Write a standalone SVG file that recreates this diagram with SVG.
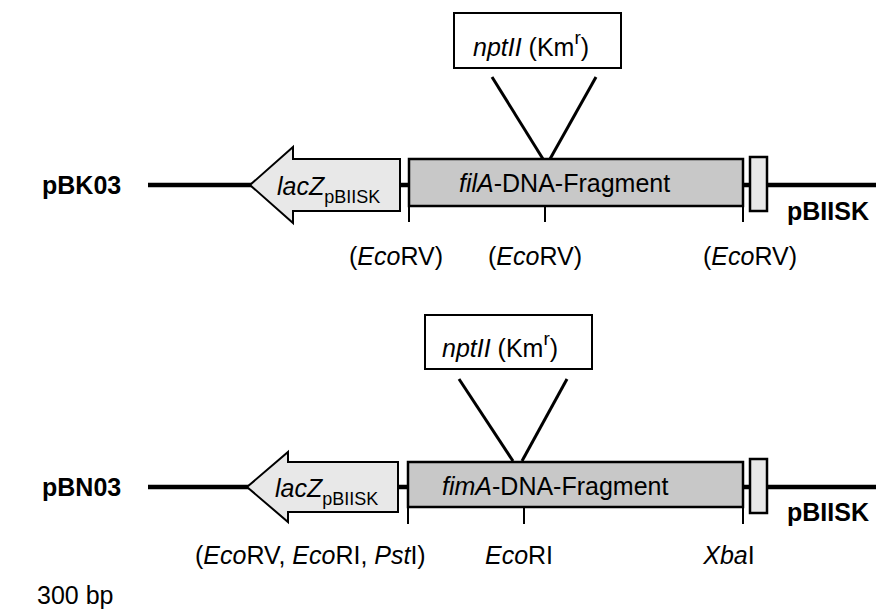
<svg xmlns="http://www.w3.org/2000/svg" width="876" height="612" viewBox="0 0 876 612">
<style>
text{font-family:"Liberation Sans",Arial,sans-serif;fill:#000;font-size:25px}
.bold{font-weight:bold}
.it{font-style:italic}
.sub{font-size:18px}
.sup{font-size:19px}
.bb{stroke:#000;stroke-width:4.5;fill:none}
.arrow{fill:#e8e8e8;stroke:#000;stroke-width:2}
.frag{fill:#c8c8c8;stroke:#000;stroke-width:2.5}
.small{fill:#e8e8e8;stroke:#000;stroke-width:2.5}
.tick{stroke:#000;stroke-width:2}
.ins{fill:#fff;stroke:#000;stroke-width:2}
.cn{stroke:#000;stroke-width:3}
</style>
<rect width="876" height="612" fill="#fff"/>
<g id="backbones">
<line class="bb" x1="148" y1="185" x2="876" y2="185"/>
<line class="bb" x1="148" y1="487" x2="876" y2="487"/>
</g>
<g id="pBK03">
<text class="bold" x="42" y="194">pBK03</text>
<polygon class="arrow" points="250,185 293,147 293,159 400,159 400,211 293,211 293,223"/>
<text x="277" y="195"><tspan class="it">lacZ</tspan><tspan class="sub" dy="8">pBIISK</tspan></text>
<rect class="frag" x="409" y="159" width="334" height="47"/>
<text x="459" y="192"><tspan class="it">filA</tspan>-DNA-Fragment</text>
<rect class="small" x="750" y="157" width="17" height="54"/>
<text class="bold" x="787" y="220">pBIISK</text>
<line class="tick" x1="409" y1="206" x2="409" y2="222"/>
<line class="tick" x1="545" y1="206" x2="545" y2="222"/>
<line class="tick" x1="743" y1="206" x2="743" y2="222"/>
<text x="396" y="265" text-anchor="middle">(<tspan class="it">Eco</tspan>RV)</text>
<text x="535" y="265" text-anchor="middle">(<tspan class="it">Eco</tspan>RV)</text>
<text x="750" y="265" text-anchor="middle">(<tspan class="it">Eco</tspan>RV)</text>
</g>
<g id="nptII-1">
<rect class="ins" x="454" y="13" width="167" height="55"/>
<text x="473" y="56"><tspan class="it">nptII</tspan> (Km<tspan class="sup" dy="-12">r</tspan><tspan dy="12">)</tspan></text>
</g>
<g id="pBN03">
<text class="bold" x="42" y="496">pBN03</text>
<polygon class="arrow" points="247,487 288,452 288,462 398,462 398,512 288,512 288,522"/>
<text x="275" y="497"><tspan class="it">lacZ</tspan><tspan class="sub" dy="8">pBIISK</tspan></text>
<rect class="frag" x="408" y="462" width="335" height="45"/>
<text x="442" y="495"><tspan class="it">fimA</tspan>-DNA-Fragment</text>
<rect class="small" x="750" y="459" width="17" height="54"/>
<text class="bold" x="787" y="521">pBIISK</text>
<line class="tick" x1="408" y1="507" x2="408" y2="524"/>
<line class="tick" x1="524" y1="507" x2="524" y2="524"/>
<line class="tick" x1="743" y1="507" x2="743" y2="524"/>
<text x="195" y="564">(<tspan class="it">Eco</tspan>RV, <tspan class="it">Eco</tspan>RI, <tspan class="it">Pst</tspan>I)</text>
<text x="519" y="564" text-anchor="middle"><tspan class="it">Eco</tspan>RI</text>
<text x="729" y="564" text-anchor="middle"><tspan class="it">Xba</tspan>I</text>
</g>
<g id="nptII-2">
<rect class="ins" x="425" y="315" width="167" height="54"/>
<text x="442" y="357"><tspan class="it">nptII</tspan> (Km<tspan class="sup" dy="-12">r</tspan><tspan dy="12">)</tspan></text>
</g>
<g id="connectors">
<line class="cn" x1="492" y1="77" x2="543" y2="159"/>
<line class="cn" x1="596" y1="77" x2="550" y2="159"/>
<line class="cn" x1="459" y1="379" x2="513" y2="461"/>
<line class="cn" x1="567" y1="379" x2="522" y2="461"/>
</g>
<text x="37" y="604">300 bp</text>
</svg>
